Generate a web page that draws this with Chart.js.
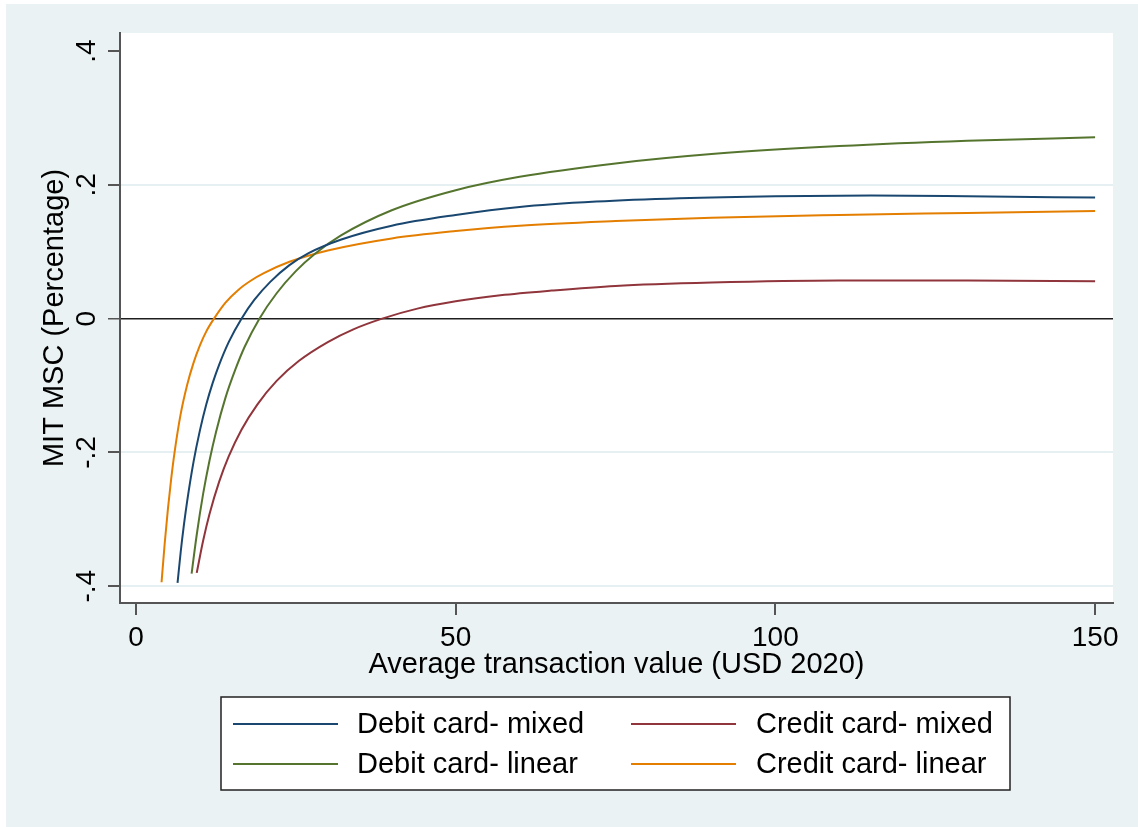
<!DOCTYPE html>
<html>
<head>
<meta charset="utf-8">
<script src="https://cdn.jsdelivr.net/npm/chart.js@4"></script>
<style>
  html, body { margin: 0; padding: 0; background: #ffffff; }
  canvas { display: block; }
</style>
</head>
<body>
<canvas id="chart" width="1138" height="827"></canvas>
<script>
// axis ticks
const xTicks = [0, 50, 100, 150];
const yTicks = [-0.4, -0.2, 0, 0.2, 0.4];
const yTickLabels = ['-.4', '-.2', '0', '.2', '.4'];

// series (x = avg transaction value, y = MIT MSC)
const debitMixedX = [6.5, 7, 7.5, 8, 9, 10, 11, 12, 13, 14.5, 16.5, 18.5, 21, 24, 27, 32, 40, 50, 60, 72, 85, 100, 115, 130, 150];
const debitMixedY = [-0.395, -0.348, -0.308, -0.273, -0.214, -0.167, -0.128, -0.096, -0.069, -0.035, 0, 0.028, 0.055, 0.080, 0.098, 0.118, 0.139, 0.155, 0.167, 0.175, 0.180, 0.183, 0.184, 0.183, 0.181];

const debitLinearX = [8.7, 9.5, 10.5, 11.5, 12.5, 14, 15.5, 17, 19.3, 22, 25, 28, 32, 40, 50, 60, 75, 90, 110, 130, 150];
const debitLinearY = [-0.381, -0.323, -0.262, -0.212, -0.170, -0.118, -0.077, -0.042, 0, 0.038, 0.071, 0.097, 0.124, 0.162, 0.192, 0.212, 0.232, 0.246, 0.258, 0.266, 0.271];

const creditMixedX = [9.5, 10.5, 11.5, 13, 14.5, 16.5, 19, 22, 25.5, 30, 34, 38.5, 44, 50, 57, 65, 75, 90, 110, 130, 150];
const creditMixedY = [-0.380, -0.332, -0.292, -0.244, -0.206, -0.166, -0.128, -0.093, -0.063, -0.035, -0.016, 0, 0.015, 0.026, 0.035, 0.042, 0.049, 0.054, 0.057, 0.057, 0.056];

const creditLinearX = [4.0, 4.5, 5, 5.5, 6, 7, 8, 9, 10, 11, 12.2, 14, 16, 18, 20, 24, 30, 40, 50, 60, 75, 90, 110, 130, 150];
const creditLinearY = [-0.394, -0.335, -0.284, -0.240, -0.202, -0.142, -0.099, -0.066, -0.040, -0.019, 0, 0.024, 0.043, 0.057, 0.068, 0.085, 0.102, 0.120, 0.131, 0.139, 0.146, 0.151, 0.155, 0.158, 0.161];

const FONT = '"Liberation Sans", Arial, sans-serif';

function toPoints(xs, ys) {
    return xs.map((x, i) => ({ x, y: ys[i] }));
}

function makeSet(label, color, xs, ys) {
    return {
        label,
        data: toPoints(xs, ys),
        borderColor: color,
        backgroundColor: color,
        borderWidth: 2,
        pointRadius: 0,
        fill: false,
        cubicInterpolationMode: 'monotone'
    };
}

// backgrounds, rotated labels, titles and the boxed legend
const stataDecor = {
    id: 'stataDecor',
    beforeDraw(chart) {
        const ctx = chart.ctx;
        const a = chart.chartArea;
        ctx.save();
        ctx.fillStyle = '#eaf2f3';
        ctx.fillRect(6, 4, chart.width - 6, chart.height - 4);
        ctx.fillStyle = '#ffffff';
        ctx.fillRect(a.left, a.top, a.right - a.left, a.bottom - a.top);
        ctx.restore();
    },
    afterDraw(chart) {
        const ctx = chart.ctx;
        const a = chart.chartArea;
        const yScale = chart.scales.y;
        ctx.save();
        ctx.fillStyle = '#000000';
        ctx.font = '28px ' + FONT;

        // y tick labels, rotated
        yTicks.forEach((v, i) => {
            ctx.save();
            ctx.translate(87, yScale.getPixelForValue(v));
            ctx.rotate(-Math.PI / 2);
            ctx.textAlign = 'center';
            ctx.textBaseline = 'middle';
            ctx.fillText(yTickLabels[i], 0, 0);
            ctx.restore();
        });

        ctx.font = '29px ' + FONT;

        // y title
        ctx.save();
        ctx.translate(55, (a.top + a.bottom) / 2);
        ctx.rotate(-Math.PI / 2);
        ctx.textAlign = 'center';
        ctx.textBaseline = 'middle';
        ctx.fillText('MIT MSC (Percentage)', 0, 0);
        ctx.restore();

        // x title
        ctx.textAlign = 'center';
        ctx.textBaseline = 'alphabetic';
        ctx.fillText('Average transaction value (USD 2020)', (a.left + a.right) / 2, 673);

        // legend
        ctx.fillStyle = '#ffffff';
        ctx.fillRect(221, 697, 789, 93);
        ctx.strokeStyle = '#222222';
        ctx.lineWidth = 1.5;
        ctx.strokeRect(221, 697, 789, 93);

        const order = [0, 2, 1, 3];
        const lineX = [233, 631];
        const textX = [357, 756];
        const rowY = [724, 764];
        ctx.textAlign = 'left';
        ctx.textBaseline = 'middle';
        order.forEach((di, k) => {
            const ds = chart.data.datasets[di];
            const col = k % 2;
            const row = Math.floor(k / 2);
            ctx.strokeStyle = ds.borderColor;
            ctx.lineWidth = 2;
            ctx.beginPath();
            ctx.moveTo(lineX[col], rowY[row]);
            ctx.lineTo(lineX[col] + 105, rowY[row]);
            ctx.stroke();
            ctx.fillStyle = '#000000';
            ctx.fillText(ds.label, textX[col], rowY[row] + 1);
        });
        ctx.restore();
    }
};

const chart = new Chart(document.getElementById('chart').getContext('2d'), {
    type: 'line',
    data: {
        datasets: [
            makeSet('Debit card- mixed', '#1a476f', debitMixedX, debitMixedY),
            makeSet('Debit card- linear', '#55752f', debitLinearX, debitLinearY),
            makeSet('Credit card- mixed', '#90353b', creditMixedX, creditMixedY),
            makeSet('Credit card- linear', '#e37e00', creditLinearX, creditLinearY)
        ]
    },
    options: {
        responsive: false,
        animation: false,
        events: [],
        layout: { padding: { left: 0, top: 33, right: 25, bottom: 0 } },
        plugins: {
            legend: { display: false },
            tooltip: { enabled: false }
        },
        scales: {
            x: {
                type: 'linear',
                min: -2.5,
                max: 152.8,
                afterBuildTicks: (s) => { s.ticks = xTicks.map(v => ({ value: v })); },
                afterFit: (s) => { s.height = 224; },
                border: { color: '#555555', width: 2 },
                grid: { drawOnChartArea: false, drawTicks: true, tickLength: 12, tickColor: '#555555', lineWidth: 2 },
                ticks: {
                    color: '#000000',
                    padding: 6,
                    maxRotation: 0,
                    font: { family: FONT, size: 28 },
                    callback: (v) => String(v)
                }
            },
            y: {
                type: 'linear',
                min: -0.425,
                max: 0.427,
                afterBuildTicks: (s) => { s.ticks = yTicks.map(v => ({ value: v })); },
                afterFit: (s) => { s.width = 120; },
                border: { color: '#555555', width: 2 },
                grid: {
                    drawTicks: true,
                    tickLength: 12,
                    tickColor: '#555555',
                    color: (c) => {
                        const v = c.tick ? c.tick.value : null;
                        if (v === 0) return '#1e1e1e';
                        if (v === 0.4) return 'rgba(0,0,0,0)';
                        return '#e6eff1';
                    },
                    lineWidth: (c) => (c.tick && c.tick.value === 0 ? 1.5 : 2)
                },
                ticks: { display: false }
            }
        }
    },
    plugins: [stataDecor]
});
</script>
</body>
</html>
